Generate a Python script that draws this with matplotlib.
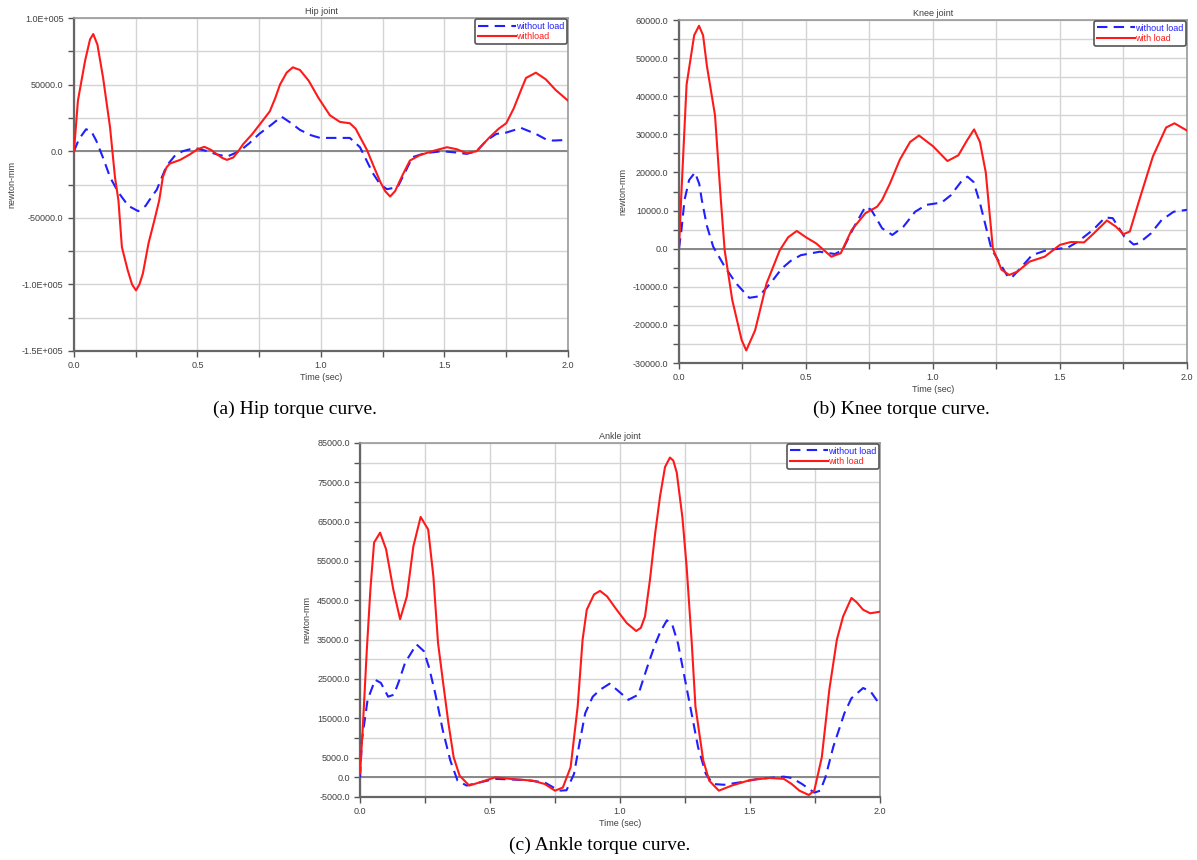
import matplotlib
matplotlib.use("Agg")
import matplotlib.pyplot as plt
from matplotlib.ticker import FixedLocator, MultipleLocator

# ---------------- data ----------------
hip_t_load = [0, 0.016, 0.045, 0.065, 0.078, 0.095, 0.118, 0.146, 0.166, 0.18, 0.194, 0.217, 0.235, 0.251,
              0.265, 0.279, 0.302, 0.326, 0.345, 0.36, 0.375, 0.389, 0.43, 0.47, 0.50, 0.528, 0.555, 0.578,
              0.60, 0.619, 0.645, 0.665, 0.685, 0.72, 0.753, 0.793, 0.815, 0.834, 0.861, 0.886, 0.915, 0.95,
              0.99, 1.036, 1.077, 1.117, 1.14, 1.186, 1.215, 1.24, 1.26, 1.28, 1.30, 1.33, 1.36, 1.40, 1.45,
              1.51, 1.55, 1.59, 1.63, 1.68, 1.72, 1.75, 1.78, 1.81, 1.83, 1.87, 1.91, 1.95, 2.0]
hip_load = [0, 38000, 68000, 84000, 88000, 80000, 55000, 18000, -19500, -37000, -72000, -89000, -100000,
            -104500, -100000, -91800, -69000, -51500, -37000, -19300, -12000, -9200, -6500, -2300, 1500,
            3300, 1000, -2200, -5000, -6500, -4700, 0, 5300, 12500, 20300, 30000, 40000, 50000, 59000,
            63000, 61000, 53000, 40000, 27000, 22000, 21000, 17000, 1000, -12000, -23000, -30000, -34000,
            -30000, -18000, -7000, -3000, 0, 3000, 1500, -1500, 0, 10000, 17000, 21000, 32000, 46000,
            55000, 59000, 54000, 46000, 38000]
hip_t_noload = [0, 0.02, 0.049, 0.07, 0.09, 0.12, 0.146, 0.18, 0.22, 0.26, 0.29, 0.315, 0.335, 0.375, 0.41,
                0.44, 0.47, 0.50, 0.54, 0.58, 0.62, 0.67, 0.71, 0.75, 0.80, 0.84, 0.88, 0.915, 0.96, 0.996,
                1.06, 1.117, 1.158, 1.21, 1.24, 1.267, 1.31, 1.34, 1.37, 1.42, 1.49, 1.55, 1.59, 1.63,
                1.67, 1.71, 1.75, 1.81, 1.87, 1.91, 1.94, 2.0]
hip_noload = [0, 9000, 16500, 15000, 8000, -6000, -19500, -31000, -41000, -45000, -41000, -34000, -29000,
              -11000, -3000, 0, 1500, 2000, 0, -2500, -4000, 0, 6000, 13000, 20000, 26000, 21000, 16000,
              12000, 10000, 10000, 10000, 3000, -16500, -25000, -28500, -27000, -16000, -4500, -1500, 0,
              -1000, -2000, 0, 8000, 13000, 14000, 17500, 13000, 9000, 8000, 8500]

knee_t_load = [0, 0.01, 0.03, 0.06, 0.079, 0.095, 0.11, 0.142, 0.165, 0.18, 0.21, 0.247, 0.265, 0.30, 0.345,
               0.397, 0.43, 0.464, 0.50, 0.54, 0.60, 0.637, 0.68, 0.734, 0.78, 0.80, 0.83, 0.87, 0.91, 0.945,
               1.0, 1.057, 1.10, 1.135, 1.162, 1.185, 1.208, 1.236, 1.27, 1.30, 1.333, 1.38, 1.44, 1.50,
               1.543, 1.595, 1.633, 1.685, 1.72, 1.75, 1.775, 1.813, 1.866, 1.918, 1.951, 2.0]
knee_load = [0, 15000, 43000, 56000, 58500, 56000, 48000, 35000, 12800, -400, -13500, -24000, -26700, -21400,
             -9100, -400, 3000, 4650, 3000, 1400, -2100, -1200, 4900, 9300, 11000, 12800, 17000, 23400,
             28000, 29700, 26900, 23000, 24500, 28500, 31300, 28000, 20000, 0, -5500, -6900, -6000, -3400,
             -2100, 1000, 1750, 1650, 4000, 7400, 5800, 3800, 4500, 12900, 24200, 31800, 32900, 31000]
knee_t_noload = [0, 0.01, 0.022, 0.04, 0.063, 0.08, 0.09, 0.11, 0.135, 0.18, 0.225, 0.277, 0.315, 0.36,
                 0.405, 0.44, 0.48, 0.554, 0.614, 0.644, 0.69, 0.734, 0.757, 0.80, 0.84, 0.884, 0.93, 0.974,
                 1.034, 1.07, 1.11, 1.136, 1.16, 1.185, 1.23, 1.26, 1.296, 1.31, 1.35, 1.39, 1.45, 1.53,
                 1.57, 1.633, 1.678, 1.708, 1.753, 1.79, 1.81, 1.858, 1.90, 1.948, 2.0]
knee_noload = [0, 5000, 12800, 18000, 20000, 17000, 12800, 6000, 500, -4700, -9100, -12900, -12500, -9100,
               -5200, -3200, -1700, -800, -1400, -350, 5800, 11000, 10200, 5350, 3600, 5800, 9700, 11500,
               12100, 14000, 17500, 18900, 17500, 12000, 0, -3400, -7500, -7600, -4700, -1700, -350, 260,
               1800, 5100, 8200, 8000, 3200, 1100, 1400, 4000, 7500, 9700, 10200]

ankle_t_load = [0, 0.01, 0.026, 0.04, 0.054, 0.077, 0.10, 0.128, 0.154, 0.18, 0.205, 0.233, 0.262, 0.282,
                0.30, 0.318, 0.34, 0.36, 0.383, 0.42, 0.46, 0.52, 0.578, 0.664, 0.71, 0.75, 0.78, 0.81,
                0.837, 0.856, 0.872, 0.90, 0.923, 0.95, 0.987, 1.026, 1.062, 1.08, 1.096, 1.115, 1.135,
                1.154, 1.173, 1.192, 1.205, 1.218, 1.24, 1.256, 1.276, 1.29, 1.32, 1.343, 1.38, 1.43, 1.50,
                1.574, 1.63, 1.66, 1.69, 1.726, 1.747, 1.776, 1.805, 1.834, 1.858, 1.89, 1.91, 1.935, 1.962,
                2.0]
ankle_load = [1000, 12000, 32400, 48000, 59700, 62200, 58000, 47700, 40200, 46000, 58700, 66200, 63000,
              51100, 34100, 24800, 13700, 5100, 400, -2100, -1300, 0, -400, -850, -1700, -3400, -2600, 2600,
              18000, 35000, 42600, 46500, 47400, 46000, 42600, 39200, 37200, 38000, 40900, 50200, 62000,
              71500, 78900, 81300, 80500, 77500, 66000, 53600, 34000, 18000, 4300, -850, -3400, -2100, -700,
              -170, -400, -1700, -3400, -4500, -3400, 5100, 22300, 35000, 40900, 45600, 44500, 42600, 41700,
              42100]
ankle_t_noload = [0, 0.007, 0.029, 0.058, 0.08, 0.108, 0.13, 0.15, 0.173, 0.217, 0.245, 0.265, 0.289, 0.318,
                  0.347, 0.375, 0.41, 0.46, 0.52, 0.635, 0.71, 0.765, 0.794, 0.823, 0.845, 0.866, 0.895,
                  0.924, 0.96, 0.996, 1.032, 1.07, 1.11, 1.136, 1.155, 1.18, 1.20, 1.223, 1.24, 1.27, 1.30,
                  1.33, 1.357, 1.40, 1.46, 1.53, 1.63, 1.66, 1.70, 1.747, 1.77, 1.79, 1.82, 1.863, 1.89,
                  1.935, 1.964, 2.0]
ankle_noload = [0, 9400, 19700, 24800, 24000, 20500, 21000, 24500, 29100, 33800, 32100, 28000, 21400, 12000,
                4300, -850, -2100, -1300, -400, -700, -1300, -3400, -3300, 860, 9000, 16300, 20500, 22300,
                23800, 21800, 19700, 21000, 29100, 34000, 37000, 39900, 39000, 34000, 28200, 18000, 7700,
                860, -1700, -1900, -1300, -430, 170, -170, -1700, -3900, -3400, 0, 7700, 16300, 20100,
                22700, 21800, 18400]

x_ticks = [0.0, 0.5, 1.0, 1.5, 2.0]
x_tick_labels = ["0.0", "0.5", "1.0", "1.5", "2.0"]

hip_yticks = [100000, 50000, 0, -50000, -100000, -150000]
hip_ylabels = ["1.0E+005", "50000.0", "0.0", "-50000.0", "-1.0E+005", "-1.5E+005"]
knee_yticks = [60000, 50000, 40000, 30000, 20000, 10000, 0, -10000, -20000, -30000]
knee_ylabels = ["60000.0", "50000.0", "40000.0", "30000.0", "20000.0", "10000.0", "0.0",
                "-10000.0", "-20000.0", "-30000.0"]
ankle_yticks = [85000, 75000, 65000, 55000, 45000, 35000, 25000, 15000, 5000, 0, -5000]
ankle_ylabels = ["85000.0", "75000.0", "65000.0", "55000.0", "45000.0", "35000.0", "25000.0",
                 "15000.0", "5000.0", "0.0", "-5000.0"]

# ---------------- style ----------------
RED = "#ff1a1a"
BLUE = "#1f1fff"
TXT = "#404040"
plt.rcParams['font.family'] = ['Liberation Sans', 'DejaVu Sans']

fig = plt.figure(figsize=(11.97, 8.60), dpi=100)


def make_panel(rect, title, t_nl, v_nl, t_l, v_l, yticks, ylabels, ylim, yminor, lbl_load):
    ax = fig.add_axes(rect)
    ax.plot(t_nl, v_nl, color=BLUE, lw=1.5, ls=(0, (5, 3)), label="without load", zorder=3)
    ax.plot(t_l, v_l, color=RED, lw=1.5, label=lbl_load, zorder=4)
    ax.set_xlim(0, 2.0)
    ax.set_ylim(*ylim)
    ax.xaxis.set_major_locator(FixedLocator(x_ticks))
    ax.set_xticklabels(x_tick_labels)
    ax.xaxis.set_minor_locator(MultipleLocator(0.25))
    ax.yaxis.set_major_locator(FixedLocator(yticks))
    ax.set_yticklabels(ylabels)
    ax.yaxis.set_minor_locator(MultipleLocator(yminor))
    ax.grid(True, which='both', color='#d4d4d4', lw=1.0, zorder=0)
    ax.axhline(0, color='#888888', lw=1.4, zorder=2)
    ax.tick_params(which='both', direction='out', colors='#555555', labelcolor=TXT,
                   labelsize=6.5, length=4, width=1)
    for s in ['left', 'bottom']:
        ax.spines[s].set_color('#666666')
        ax.spines[s].set_linewidth(1.6)
    for s in ['top', 'right']:
        ax.spines[s].set_color('#999999')
        ax.spines[s].set_linewidth(1.2)
    ax.set_title(title, fontsize=6.5, color=TXT, pad=3)
    ax.set_xlabel("Time (sec)", fontsize=6.5, color=TXT, labelpad=2)
    ax.set_ylabel("newton-mm", fontsize=6.5, color=TXT, labelpad=4)
    leg = ax.legend(loc='upper right', fontsize=6.5, labelcolor='linecolor', handlelength=4.2,
                    handletextpad=0.0, borderpad=0.3, labelspacing=0.15, borderaxespad=0.1,
                    fancybox=True, framealpha=1.0)
    leg.get_frame().set_edgecolor('#555555')
    leg.get_frame().set_linewidth(1.2)
    return ax


make_panel([0.0618, 0.5919, 0.4127, 0.3871], "Hip joint", hip_t_noload, hip_noload,
           hip_t_load, hip_load, hip_yticks, hip_ylabels, (-150000, 100000), 25000, "withload")
make_panel([0.5672, 0.5779, 0.4244, 0.3988], "Knee joint", knee_t_noload, knee_noload,
           knee_t_load, knee_load, knee_yticks, knee_ylabels, (-30000, 60000), 5000, "with load")
make_panel([0.3008, 0.0733, 0.4344, 0.4116], "Ankle joint", ankle_t_noload, ankle_noload,
           ankle_t_load, ankle_load, ankle_yticks, ankle_ylabels, (-5000, 85000), 5000, "with load")

cap_kw = dict(fontsize=14, family=['Liberation Serif', 'DejaVu Serif'], ha='center', va='center',
              color='black')
fig.text(0.2465, 0.5244, "(a) Hip torque curve.", **cap_kw)
fig.text(0.7527, 0.5244, "(b) Knee torque curve.", **cap_kw)
fig.text(0.5013, 0.0174, "(c) Ankle torque curve.", **cap_kw)

fig.savefig("out.png", dpi=100)
